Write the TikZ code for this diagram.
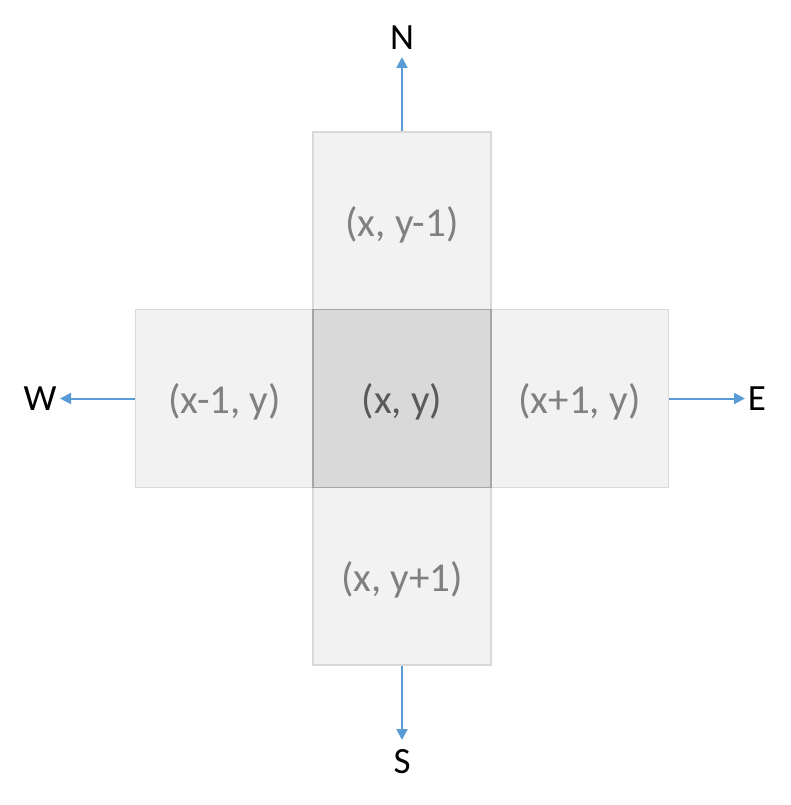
\documentclass[tikz,border=0pt]{standalone}
\usepackage{fontspec}
\setmainfont{Carlito}
\usetikzlibrary{arrows.meta}
\definecolor{cellfill}{HTML}{F2F2F2}
\definecolor{celledge}{HTML}{D9D9D9}
\definecolor{midfill}{HTML}{D9D9D9}
\definecolor{midedge}{HTML}{A6A6A6}
\definecolor{celltext}{HTML}{808080}
\definecolor{midtext}{HTML}{595959}
\definecolor{arrowblue}{HTML}{5B9BD5}
\tikzset{
    cell/.style={draw=celledge,fill=cellfill,line width=1.5pt,minimum size=178pt,
        inner sep=0pt,text=celltext,text height=36pt,text depth=6pt,
        font=\fontsize{41}{44}\selectfont},
    midcell/.style={cell,draw=midedge,fill=midfill,text=midtext},
    compass/.style={inner sep=0pt,font=\fontsize{37}{40}\selectfont},
    dirarrow/.style={arrowblue,line width=2pt,-{Triangle[length=11pt,width=11pt]}}
}
\begin{document}
\begin{tikzpicture}[x=1pt,y=-1pt]
    \useasboundingbox (0,0) rectangle (790,805);
    % neighbours
    \node[cell] (T) at (402,221) {(x, y-1)};
    \node[cell] (B) at (402,576) {(x, y+1)};
    \node[cell] (L) at (224.5,398.5) {(x-1, y)};
    \node[cell] (R) at (579.5,398.5) {(x+1, y)};
    \node[midcell] (C) at (402,398.5) {(x, y)};
    % compass points
    \coordinate (n) at (402,57);
    \coordinate (s) at (402,740);
    \coordinate (w) at (60,398.5);
    \coordinate (e) at (745,398.5);
    \node[compass] (N) at (402,38) {N};
    \node[compass] (S) at (402,762) {S};
    \node[compass] (W) at (40,399) {W};
    \node[compass] (E) at (757,399) {E};
    \draw[dirarrow] (T.north) -- (n);
    \draw[dirarrow] (B.south) -- (s);
    \draw[dirarrow] (L.west) -- (w);
    \draw[dirarrow] (R.east) -- (e);
\end{tikzpicture}
\end{document}
